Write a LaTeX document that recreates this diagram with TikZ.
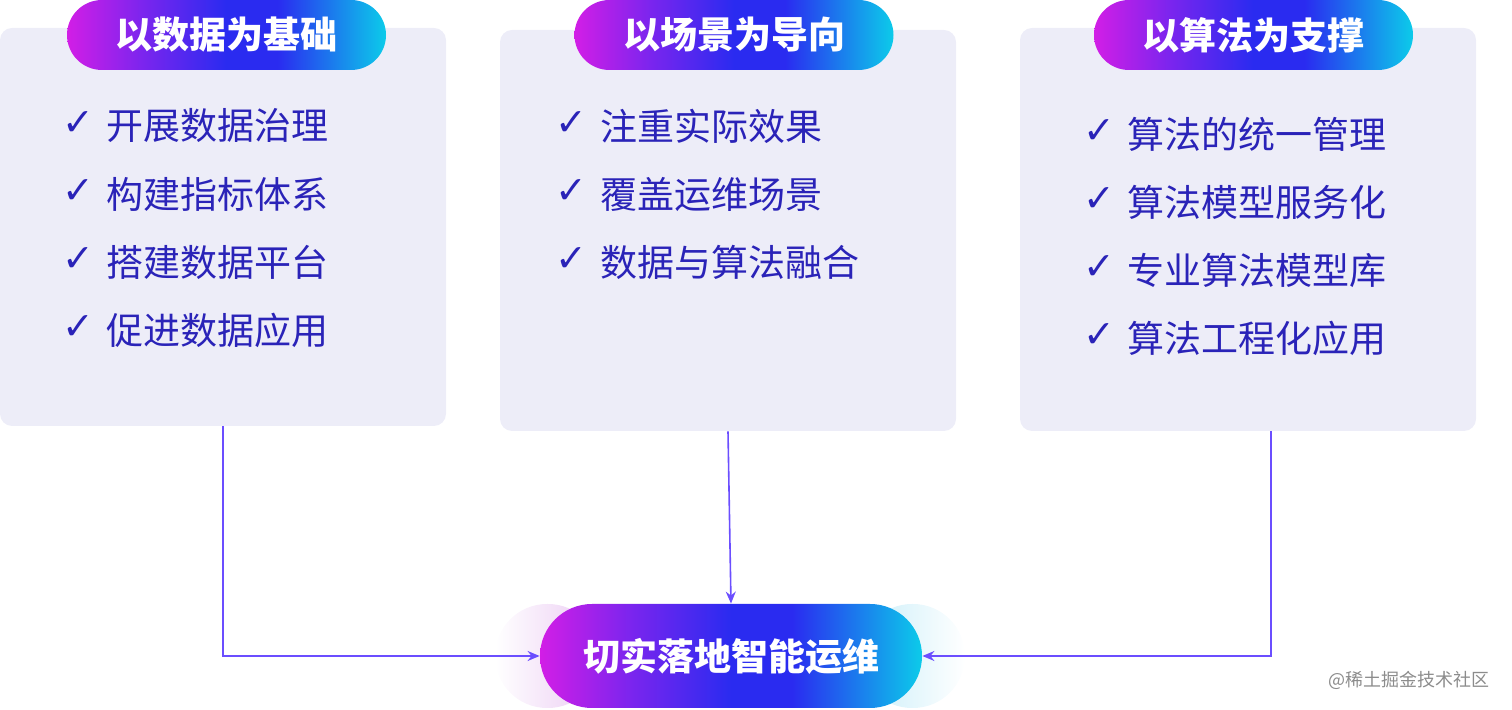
\documentclass[tikz,border=0pt]{standalone}
\usepackage{fontspec}
\usetikzlibrary{arrows.meta,positioning}
\newfontfamily\cjk{Noto Sans CJK SC}
\newfontfamily\sym{DejaVu Sans}
\definecolor{panelbg}{HTML}{EDEDF8}
\definecolor{itemtxt}{HTML}{2A23B8}
\definecolor{linkc}{HTML}{6B4EFF}
\definecolor{gmag}{HTML}{D21EE6}
\definecolor{gpur}{HTML}{7A25EE}
\definecolor{gblu}{HTML}{2A2BF0}
\definecolor{gcya}{HTML}{0CCBEA}
\definecolor{glowl}{HTML}{EBCBF3}
\definecolor{glowr}{HTML}{C9EEF9}
\pgfdeclarehorizontalshading{pillshade}{100bp}{color(0bp)=(gmag); color(25bp)=(gmag);
  color(37bp)=(gpur); color(50bp)=(gblu); color(58bp)=(gblu); color(75bp)=(gcya); color(100bp)=(gcya)}
\newcommand{\itemfont}{\cjk\fontsize{18.5pt}{22pt}\selectfont}

\begin{document}
\begin{tikzpicture}[x=0.5pt,y=-0.5pt,
    panel/.style={fill=panelbg,rounded corners=6pt,inner sep=0pt},
    pill/.style={shading=pillshade,
      rounded corners=17.5pt,minimum width=159.5pt,minimum height=35pt,
      inner sep=0pt,text=white,font=\cjk\bfseries\fontsize{18.5pt}{22pt}\selectfont},
    tick/.style={text=itemtxt,font=\sym\bfseries\fontsize{19pt}{22pt}\selectfont,inner sep=0pt},
    entry/.style={text=itemtxt,font=\itemfont,anchor=west,inner sep=0pt},
    link/.style={draw=linkc,line width=0.8pt,-{Stealth[length=6pt,width=5pt]}}]
  \useasboundingbox (0,0) rectangle (1512,710);
  % panels
  \node[panel,minimum width=223pt,minimum height=199pt] (box1) at (223,227) {};
  \node[panel,minimum width=228pt,minimum height=200.5pt] (box2) at (728,230.5) {};
  \node[panel,minimum width=228pt,minimum height=201.5pt] (box3) at (1248,229.5) {};
  % titles
  \node[pill] (head1) at (226.5,35) {以数据为基础};
  \node[pill] (head2) at (734,35) {以场景为导向};
  \node[pill] (head3) at (1253.5,35) {以算法为支撑};
  % items
  \foreach \t [count=\i] in {开展数据治理,构建指标体系,搭建数据平台,促进数据应用}
    {\node[tick] (ta\i) at (78,56+68*\i) {✓};
     \node[entry] (ea\i) at (106,58+68*\i) {\t};}
  \foreach \t [count=\i] in {注重实际效果,覆盖运维场景,数据与算法融合}
    {\node[tick] (tb\i) at (571,56+68*\i) {✓};
     \node[entry] (eb\i) at (600,58+68*\i) {\t};}
  \foreach \t [count=\i] in {算法的统一管理,算法模型服务化,专业算法模型库,算法工程化应用}
    {\node[tick] (tc\i) at (1099,64+68*\i) {✓};
     \node[entry] (ec\i) at (1127,66+68*\i) {\t};}
  % goal with glow
  \shade[left color=white,right color=glowl,rounded corners=26pt]
    (495,604) rectangle (600,708);
  \shade[left color=glowr,right color=white,rounded corners=26pt]
    (860,604) rectangle (965,708);
  \node[pill,minimum width=191pt,minimum height=52pt,rounded corners=26pt]
    (goal) at (731,656) {切实落地智能运维};
  % connectors
  \draw[link] (box1.south) |- (goal.west);
  \draw[link] (box2.south) -- (goal.north);
  \draw[link] ([xshift=11.5pt]box3.south) |- (goal.east);
  \node[text=black!45,font=\cjk\fontsize{9pt}{11pt}\selectfont,anchor=east,inner sep=0pt]
    (mark) at (1490,680) {@稀土掘金技术社区};
\end{tikzpicture}
\end{document}
